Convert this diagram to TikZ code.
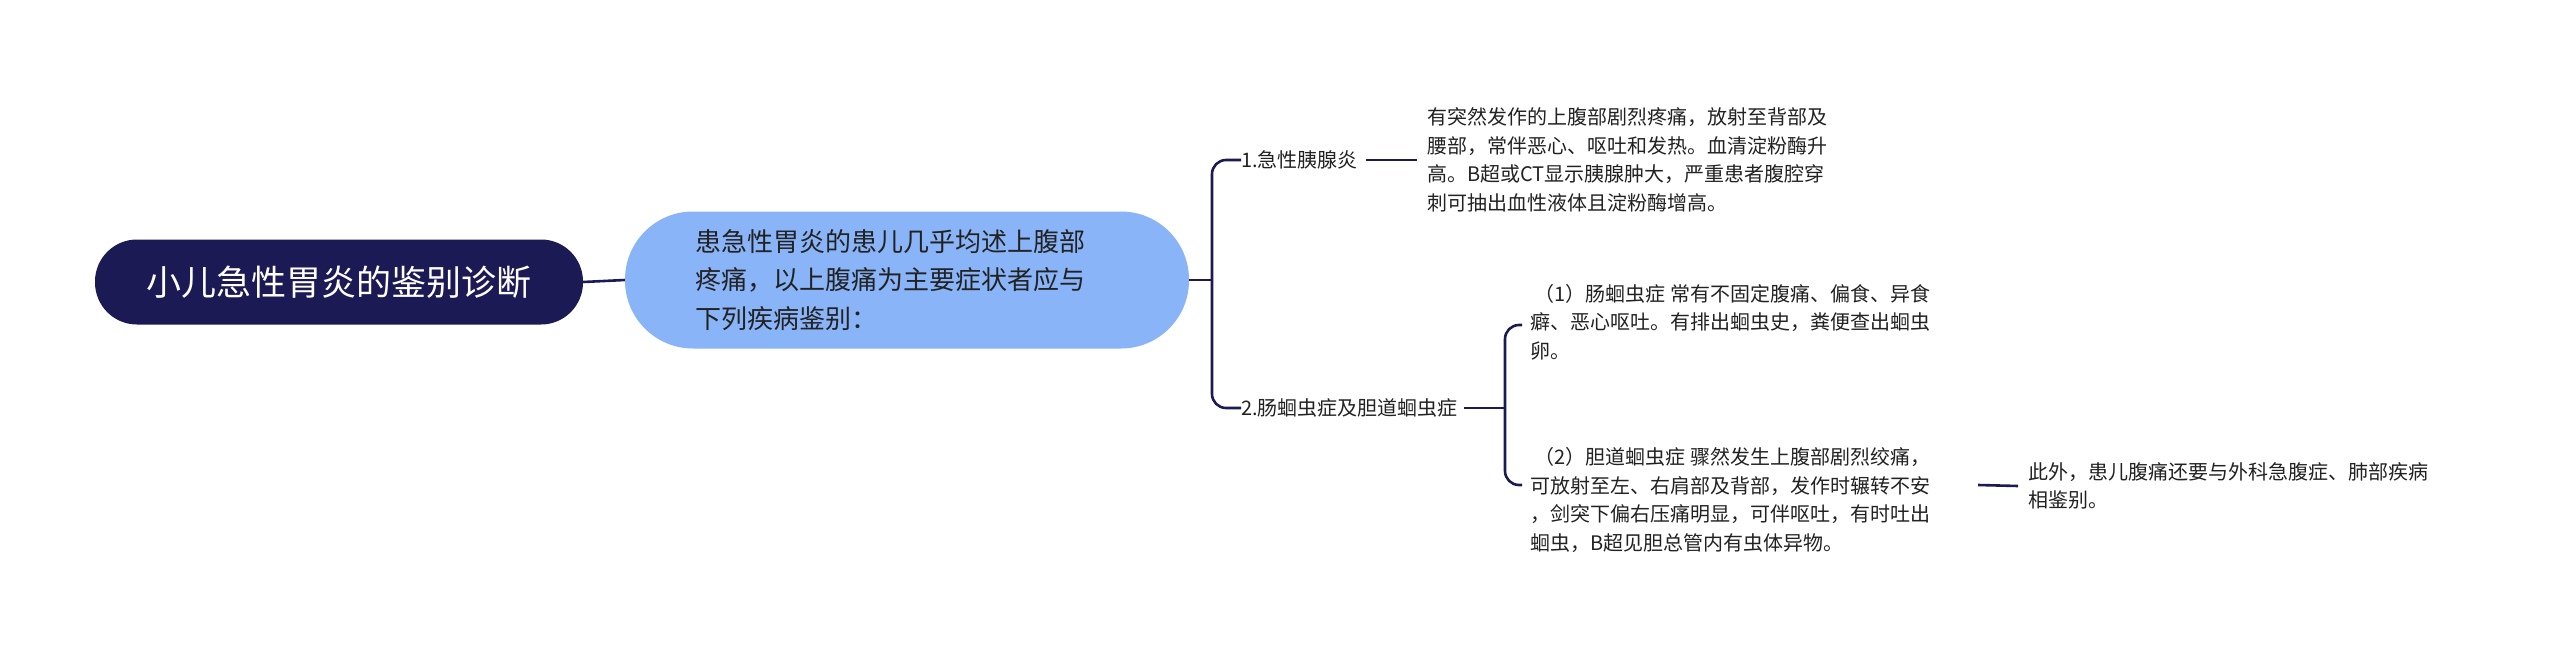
\documentclass[tikz,border=0pt]{standalone}
\usepackage{fontspec}
\setmainfont{Noto Sans CJK SC}
\definecolor{navy}{HTML}{1B1A55}
\definecolor{lblue}{HTML}{8AB4F8}
\definecolor{txt}{HTML}{222222}
\begin{document}
\begin{tikzpicture}[x=1pt,y=-1pt,
  link/.style={draw=navy,line width=2.6pt},
  small/.style={font=\fontsize{20}{28.5}\selectfont,text=txt,align=left,inner sep=0pt},
  ]
\useasboundingbox[fill=white] (0,0) rectangle (2560,645);
\node[fill=navy,rounded corners=42pt,minimum width=488pt,minimum height=85pt,text=white,font=\fontsize{35}{40}\selectfont] (root) at (339,282) {小儿急性胃炎的鉴别诊断};
\node[fill=lblue,rounded corners=68pt,minimum width=564pt,minimum height=137pt] (blue) at (907,280) {};
\node[anchor=west,align=left,inner sep=0pt,text=txt,font=\fontsize{26}{38.5}\selectfont] (bt) at (695,280) {患急性胃炎的患儿几乎均述上腹部\\疼痛，以上腹痛为主要症状者应与\\下列疾病鉴别：};
\draw[link] (root.east) -- (blue.west);

\node[small,anchor=west] (b1) at (1241,160) {1.急性胰腺炎};
\node[small,anchor=west] (b2) at (1241,408) {2.肠蛔虫症及胆道蛔虫症};
\coordinate (sp) at (1212,280);
\draw[link] (blue.east) -- (sp);
\draw[link,rounded corners=14pt] (sp) -- (1212,160) -- (b1.west);
\draw[link,rounded corners=14pt] (sp) -- (1212,408) -- (b2.west);

\node[small,anchor=west] (t1) at (1427,160) {有突然发作的上腹部剧烈疼痛，放射至背部及\\腰部，常伴恶心、呕吐和发热。血清淀粉酶升\\高。B超或CT显示胰腺肿大，严重患者腹腔穿\\刺可抽出血性液体且淀粉酶增高。};
\draw[link] (b1.east) ++(8,0) coordinate (c1) -- (t1.west -| 1417,0);
\draw[link] ([xshift=8pt]b1.east) -- ([xshift=-10pt]t1.west);

\node[small,anchor=west] (t2) at (1530,322) {\ （1）肠蛔虫症 常有不固定腹痛、偏食、异食\\癖、恶心呕吐。有排出蛔虫史，粪便查出蛔虫\\卵。};
\node[small,anchor=west] (t3) at (1530,500) {\ （2）胆道蛔虫症 骤然发生上腹部剧烈绞痛，\\可放射至左、右肩部及背部，发作时辗转不安\\，剑突下偏右压痛明显，可伴呕吐，有时吐出\\蛔虫，B超见胆总管内有虫体异物。};
\coordinate (sp2) at (1505,408);
\draw[link] ([xshift=6pt]b2.east) -- (sp2);
\draw[link,rounded corners=14pt] (sp2) -- (1505,325) -- (1522,325);
\draw[link,rounded corners=14pt] (sp2) -- (1505,485) -- (1522,485);

\node[small,anchor=west] (t4) at (2028,486) {此外，患儿腹痛还要与外科急腹症、肺部疾病\\相鉴别。};
\draw[link] (1978,485) -- ([xshift=-10pt]t4.west);
\end{tikzpicture}
\end{document}
